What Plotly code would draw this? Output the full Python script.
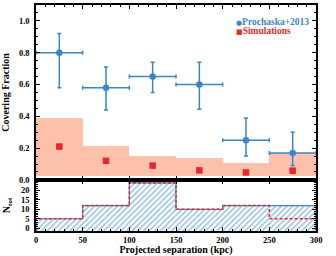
import plotly.graph_objects as go

# ---- data ----
bin_centers = [25, 75, 125, 175, 225, 275]
bin_halfwidth = [25, 25, 25, 25, 25, 25]
pro_frac = [0.80, 0.58, 0.65, 0.60, 0.25, 0.17]
pro_err_hi = [0.12, 0.13, 0.09, 0.14, 0.14, 0.13]
pro_err_lo = [0.22, 0.14, 0.10, 0.155, 0.10, 0.08]
sim_frac = [0.21, 0.12, 0.09, 0.06, 0.047, 0.058]
sim_band_lo = [0.027, 0.027, 0.027, 0.027, 0.027, 0.027]
sim_band_hi = [0.39, 0.215, 0.152, 0.138, 0.108, 0.171]
n_pro = [5, 12, 24, 10, 12, 12]
n_sim = [5, 12, 24, 10, 12, 5]
legend_labels = ["Prochaska+2013", "Simulations"]

BLUE = "#3b86c5"
RED = "#e22a2a"
BAND = "#fdc0aa"
FONT = "Liberation Serif"
NMIN = -1.5

fig = go.Figure()

# simulation band
fig.add_trace(go.Bar(
    x=bin_centers, y=[h - l for h, l in zip(sim_band_hi, sim_band_lo)], base=sim_band_lo,
    width=[2 * w for w in bin_halfwidth], marker=dict(color=BAND, line=dict(width=0)),
    showlegend=False, xaxis="x", yaxis="y", hoverinfo="skip"))

# Prochaska points
fig.add_trace(go.Scatter(
    x=bin_centers, y=pro_frac, mode="markers",
    marker=dict(color=BLUE, size=6.5, symbol="circle"),
    error_x=dict(type="data", array=bin_halfwidth, color=BLUE, thickness=1.5, width=2),
    error_y=dict(type="data", symmetric=False, array=pro_err_hi, arrayminus=pro_err_lo,
                 color=BLUE, thickness=1.5, width=2),
    showlegend=False, xaxis="x", yaxis="y"))

# simulations
fig.add_trace(go.Scatter(
    x=bin_centers, y=sim_frac, mode="markers",
    marker=dict(color=RED, size=6.5, symbol="square"),
    showlegend=False, xaxis="x", yaxis="y"))

# bottom: hatched histogram
fig.add_trace(go.Bar(
    x=bin_centers, y=[v - NMIN for v in n_pro], base=NMIN,
    width=[2 * w for w in bin_halfwidth],
    marker=dict(color="white", line=dict(width=0),
                pattern=dict(shape="/", fgcolor=BLUE, bgcolor="white", size=4, solidity=0.4)),
    showlegend=False, xaxis="x2", yaxis="y2", hoverinfo="skip"))


def step_xy(vals):
    edges = [c - w for c, w in zip(bin_centers, bin_halfwidth)] + [bin_centers[-1] + bin_halfwidth[-1]]
    xs = [edges[0]] + edges + [edges[-1]]
    ys = [NMIN] + list(vals) + [vals[-1], NMIN]
    return xs, ys


xs, ys = step_xy(n_pro)
fig.add_trace(go.Scatter(x=xs, y=ys, mode="lines", line=dict(color=BLUE, width=1.2, shape="hv"),
                         showlegend=False, xaxis="x2", yaxis="y2", hoverinfo="skip"))
xs, ys = step_xy(n_sim)
fig.add_trace(go.Scatter(x=xs, y=ys, mode="lines",
                         line=dict(color=RED, width=1.5, dash="3px,2px", shape="hv"),
                         showlegend=False, xaxis="x2", yaxis="y2", hoverinfo="skip"))

tickfont = dict(family=FONT, size=8.5, color="black", weight="bold")
titlefont = dict(family=FONT, size=10, color="black")
common = dict(showline=True, linecolor="black", linewidth=1.5, mirror="allticks",
              ticks="inside", ticklen=4, tickwidth=1, tickcolor="black",
              showgrid=False, zeroline=False, tickfont=tickfont, automargin=False)

fig.update_layout(
    width=336, height=256,
    margin=dict(l=36, r=20, t=5, b=25),
    paper_bgcolor="white", plot_bgcolor="white",
    bargap=0, barmode="overlay", showlegend=False,
    font=dict(family=FONT, size=10, color="black"),
    xaxis=dict(range=[0, 300], domain=[0, 1], anchor="y", showticklabels=False,
               dtick=50, minor=dict(ticks="inside", dtick=10, ticklen=2, tickcolor="black"), **common),
    yaxis=dict(range=[0, 1.1], domain=[0.226, 1], anchor="x", dtick=0.2, tickformat=".1f",
               ticklabelstandoff=3,
               minor=dict(ticks="inside", dtick=0.05, ticklen=2, tickcolor="black"),
               title=dict(text="<b>Covering Fraction</b>", font=titlefont, standoff=7),
               **common),
    xaxis2=dict(range=[0, 300], domain=[0, 1], anchor="y2", dtick=50,
                minor=dict(ticks="inside", dtick=10, ticklen=2, tickcolor="black"),
                title=dict(text="<b>Projected separation (kpc)</b>", font=titlefont, standoff=1),
                **common),
    yaxis2=dict(range=[NMIN, 25.6], domain=[0, 0.226], anchor="x2", tickvals=[0, 5, 10, 15, 20],
                ticklabelstandoff=3,
                minor=dict(ticks="inside", dtick=1, ticklen=2, tickcolor="black"),
                title=dict(text="<b>N<sub>tot</sub></b>", font=titlefont, standoff=9),
                **common),
)

# legend drawn as coloured text
leg_colors = [BLUE, RED]
leg_symbols = ["●", "■"]
leg_y = [0.926, 0.884]
for lab, col, sym, yy in zip(legend_labels, leg_colors, leg_symbols, leg_y):
    fig.add_annotation(
        xref="paper", yref="paper", x=0.708, y=yy, xanchor="left", yanchor="middle",
        text="<span style='font-family:DejaVu Sans;font-size:7px'>%s</span><b>%s</b>" % (sym, lab),
        font=dict(family=FONT, size=9.5, color=col), showarrow=False)

fig.write_html("out.html", config={"displayModeBar": False},
               post_script="document.body.style.margin='0';")
